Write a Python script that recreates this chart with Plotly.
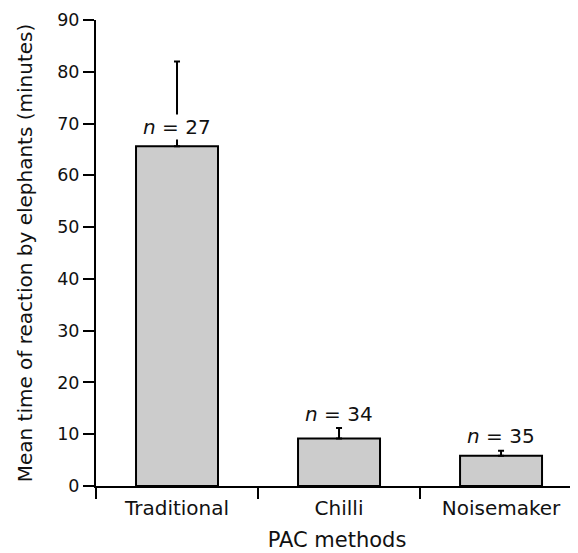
import plotly.graph_objects as go

categories = ["Traditional", "Chilli", "Noisemaker"]
mean_minutes = [65.6, 9.15, 5.86]
error_up = [16.4, 2.05, 0.97]
sample_labels = ["<i>n</i> = 27", "<i>n</i> = 34", "<i>n</i> = 35"]
label_y = [69.3, 14.0, 9.7]
y_ticks = [0, 10, 20, 30, 40, 50, 60, 70, 80, 90]

FONT = "DejaVu Sans"

fig = go.Figure()
fig.add_trace(go.Bar(
    x=categories,
    y=mean_minutes,
    width=0.506,
    marker=dict(color="#cccccc", line=dict(color="black", width=2)),
    error_y=dict(type="data", array=error_up, arrayminus=[0] * len(error_up),
                 symmetric=False, color="black", thickness=2, width=3),
    showlegend=False,
    hoverinfo="x+y",
))

for cat, lab, ly in zip(categories, sample_labels, label_y):
    fig.add_annotation(x=cat, y=ly, text=lab, showarrow=False,
                       font=dict(family=FONT, size=20, color="#111"),
                       bgcolor="white", borderpad=0, yanchor="middle")

fig.update_layout(
    width=578, height=553,
    margin=dict(l=88, r=8, t=12, b=75),
    plot_bgcolor="white", paper_bgcolor="white",
    font=dict(family=FONT, color="#111"),
    bargap=0.5,
    xaxis=dict(
        type="category",
        range=[-0.5, 2.475],
        tickson="boundaries",
        ticks="outside", ticklen=11, tickwidth=2, tickcolor="black",
        showline=True, linecolor="black", linewidth=2,
        showgrid=False, zeroline=False,
        tickfont=dict(family=FONT, size=20, color="#111"),
        ticklabelstandoff=3,
        title=dict(text="PAC methods", font=dict(family=FONT, size=21, color="#111"), standoff=13),
        automargin=False,
    ),
    yaxis=dict(
        range=[0, 90],
        tickvals=y_ticks,
        ticks="outside", ticklen=11, tickwidth=2, tickcolor="black",
        showline=True, linecolor="black", linewidth=2,
        showgrid=False, zeroline=False,
        tickfont=dict(family=FONT, size=17.5, color="#111"),
        title=dict(text="Mean time of reaction by elephants (minutes)",
                   font=dict(family=FONT, size=20, color="#111"), standoff=19),
        automargin=False,
    ),
)

fig.write_html("out.html")
